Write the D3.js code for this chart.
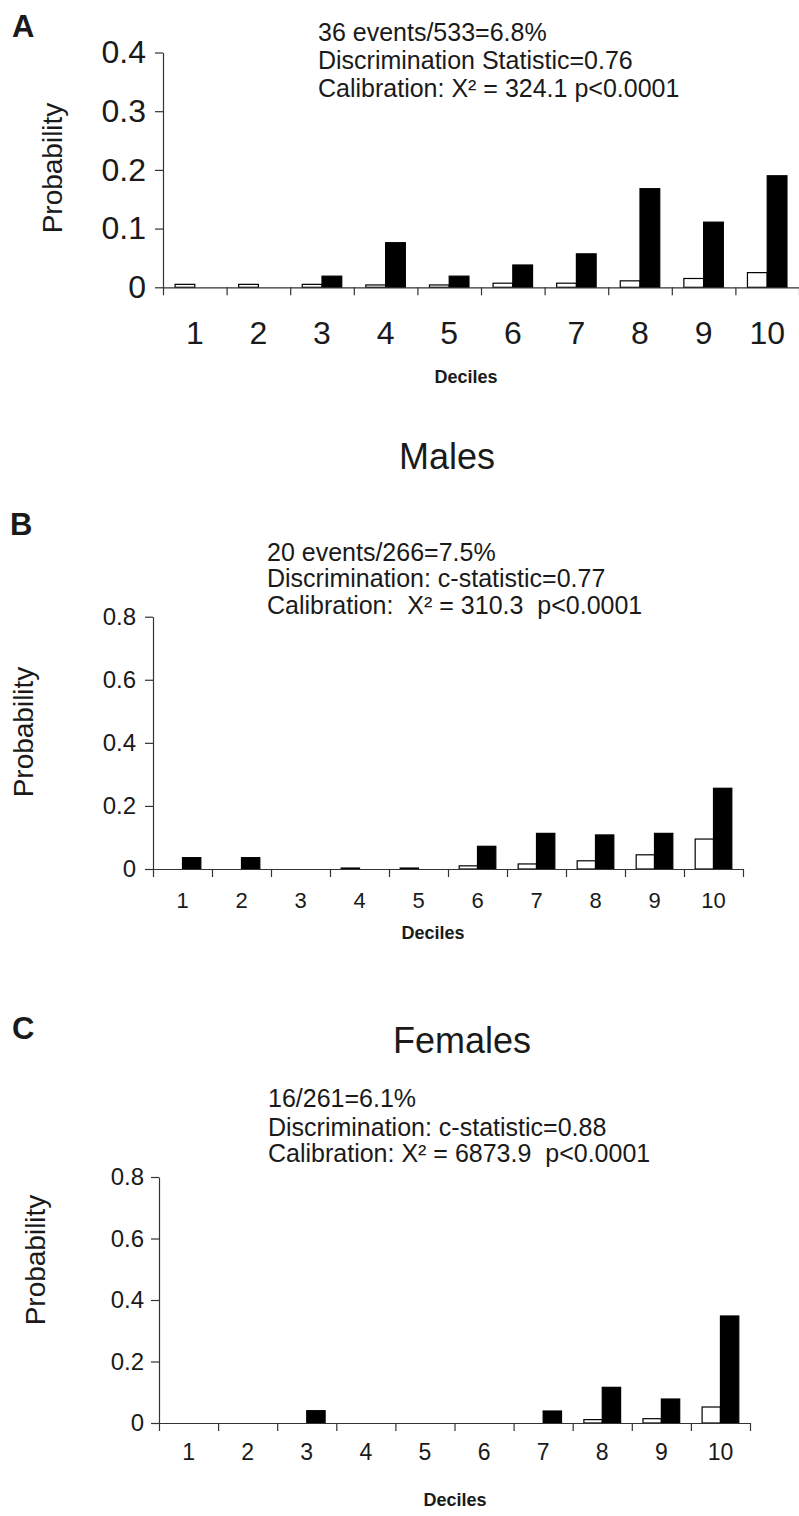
<!DOCTYPE html>
<html>
<head>
<meta charset="utf-8">
<title>Predicted vs observed probability by decile</title>
<script src="https://cdn.jsdelivr.net/npm/d3@7"></script>
<style>
  body { margin: 0; background: #fff; }
  text { font-family: Arial, "Liberation Sans", Helvetica, sans-serif; fill: #1a1a1a; }
</style>
</head>
<body>
<svg id="mainsvg" width="799" height="1516"></svg>
<script>
// deciles on the x axis
const deciles = ['1', '2', '3', '4', '5', '6', '7', '8', '9', '10'];

// open bars (predicted) and filled bars (observed)
const predictedA = [0.005, 0.005, 0.005, 0.004, 0.004, 0.007, 0.007, 0.011, 0.015, 0.025];
const observedA  = [0, 0, 0.019, 0.076, 0.019, 0.038, 0.057, 0.168, 0.111, 0.190];
const predictedB = [0, 0, 0, 0.003, 0.003, 0.010, 0.016, 0.026, 0.045, 0.095];
const observedB  = [0.036, 0.036, 0, 0, 0, 0.072, 0.113, 0.108, 0.113, 0.256];
const predictedC = [0, 0, 0, 0, 0, 0, 0, 0.011, 0.014, 0.052];
const observedC  = [0, 0, 0.040, 0, 0, 0, 0.039, 0.116, 0.078, 0.348];

// y tick values and labels
const yTicksA = [0, 0.1, 0.2, 0.3, 0.4];
const yTickLabelsA = ['0', '0.1', '0.2', '0.3', '0.4'];
const yTicksBC = [0, 0.2, 0.4, 0.6, 0.8];
const yTickLabelsBC = ['0', '0.2', '0.4', '0.6', '0.8'];

// annotation text
const notesA = ['36 events/533=6.8%', 'Discrimination Statistic=0.76', 'Calibration: X\u00b2 = 324.1 p<0.0001'];
const notesB = ['20 events/266=7.5%', 'Discrimination: c-statistic=0.77', 'Calibration:  X\u00b2 = 310.3  p<0.0001'];
const notesC = ['16/261=6.1%', 'Discrimination: c-statistic=0.88', 'Calibration: X\u00b2 = 6873.9  p<0.0001'];

const svg = d3.select('#mainsvg');

// layout of the three panels
const panels = [
  { letter: 'A', lx: 12, ly: 37, title: null,
    left: 163, right: 799, y0: 287.3, yTop: 52.5, yMax: 0.4,
    ticks: yTicksA, tickLabels: yTickLabelsA, yFont: 32, yGap: 17,
    xFont: 32, xLabelY: 45,
    pred: predictedA, obs: observedA,
    notes: notesA, nx: 318, ny: [31.7, 60, 88.3], nFont: 25,
    probX: 52, probY: 168, probFont: 28,
    decX: 466, decY: 377, decFont: 18 },
  { letter: 'B', lx: 10, ly: 535, title: 'Males', tx: 447, ty: 456,
    left: 153, right: 743, y0: 869, yTop: 616.7, yMax: 0.8,
    ticks: yTicksBC, tickLabels: yTickLabelsBC, yFont: 24, yGap: 17,
    xFont: 22, xLabelY: 31,
    pred: predictedB, obs: observedB,
    notes: notesB, nx: 267, ny: [551.7, 578.3, 605], nFont: 25,
    probX: 23, probY: 732, probFont: 28,
    decX: 433, decY: 933, decFont: 18 },
  { letter: 'C', lx: 12, ly: 1039, title: 'Females', tx: 462, ty: 1040,
    left: 159, right: 750, y0: 1423, yTop: 1177, yMax: 0.8,
    ticks: yTicksBC, tickLabels: yTickLabelsBC, yFont: 24, yGap: 15,
    xFont: 23, xLabelY: 29,
    pred: predictedC, obs: observedC,
    notes: notesC, nx: 268, ny: [1098, 1126.7, 1153.3], nFont: 25,
    probX: 35, probY: 1260, probFont: 28,
    decX: 455, decY: 1500, decFont: 18 }
];

panels.forEach(p => {
  const g = svg.append('g');

  const y = d3.scaleLinear().domain([0, p.yMax]).range([p.y0, p.yTop]);
  const xBand = d3.scaleBand().domain(deciles).range([p.left, p.right]);
  const xEdge = d3.scaleLinear().domain([0, deciles.length]).range([p.left, p.right]);
  const xSub = d3.scaleBand().domain(['pred', 'obs'])
    .range([0, xBand.bandwidth()]).paddingInner(0).paddingOuter(0.61);

  // bars
  const rows = deciles.map((d, i) => ({ d, pred: p.pred[i], obs: p.obs[i] }));
  ['pred', 'obs'].forEach(key => {
    g.selectAll('rect.' + key)
      .data(rows.filter(r => r[key] > 0))
      .join('rect')
      .attr('class', key)
      .attr('x', r => xBand(r.d) + xSub(key))
      .attr('width', xSub.bandwidth())
      .attr('y', r => y(r[key]))
      .attr('height', r => y(0) - y(r[key]))
      .attr('fill', key === 'obs' ? '#000' : '#fff')
      .attr('stroke', '#000')
      .attr('stroke-width', 1.2);
  });

  // y axis
  const yAxis = d3.axisLeft(y).tickValues(p.ticks)
    .tickFormat((d, i) => p.tickLabels[i]).tickSize(8).tickSizeOuter(0).tickPadding(p.yGap - 8);
  const yg = g.append('g').attr('transform', `translate(${p.left},0)`).call(yAxis);
  yg.selectAll('text').attr('font-size', p.yFont).attr('font-family', null).attr('fill', '#1a1a1a');

  // x axis line with ticks at decile boundaries
  const xAxis = d3.axisBottom(xEdge).tickValues(d3.range(deciles.length + 1))
    .tickFormat('').tickSize(8).tickSizeOuter(0);
  g.append('g').attr('transform', `translate(0,${p.y0})`).call(xAxis);

  // decile labels centred in each band
  const xl = g.append('g').attr('transform', `translate(0,${p.y0})`)
    .call(d3.axisBottom(xBand).tickSize(0));
  xl.select('.domain').remove();
  xl.selectAll('text').attr('y', p.xLabelY).attr('dy', '0.36em')
    .attr('font-size', p.xFont).attr('font-family', null).attr('fill', '#1a1a1a');

  g.selectAll('.domain, .tick line').attr('stroke', '#333').attr('stroke-width', 1.2);

  // axis titles
  g.append('text').text('Probability')
    .attr('transform', `translate(${p.probX},${p.probY}) rotate(-90)`)
    .attr('text-anchor', 'middle').attr('dy', '0.36em')
    .attr('font-size', p.probFont);
  g.append('text').text('Deciles')
    .attr('x', p.decX).attr('y', p.decY).attr('dy', '0.36em')
    .attr('text-anchor', 'middle').attr('font-weight', 'bold')
    .attr('font-size', p.decFont);

  // annotation lines
  g.selectAll('text.note').data(p.notes).join('text')
    .attr('class', 'note')
    .attr('x', p.nx).attr('y', (d, i) => p.ny[i]).attr('dy', '0.36em')
    .attr('font-size', p.nFont)
    .style('white-space', 'pre')
    .text(d => d);

  // panel letter and title
  g.append('text').text(p.letter)
    .attr('x', p.lx).attr('y', p.ly)
    .attr('font-weight', 'bold').attr('font-size', 31);
  if (p.title) {
    g.append('text').text(p.title)
      .attr('x', p.tx).attr('y', p.ty).attr('dy', '0.36em')
      .attr('text-anchor', 'middle').attr('font-size', 36);
  }
});
</script>
</body>
</html>
